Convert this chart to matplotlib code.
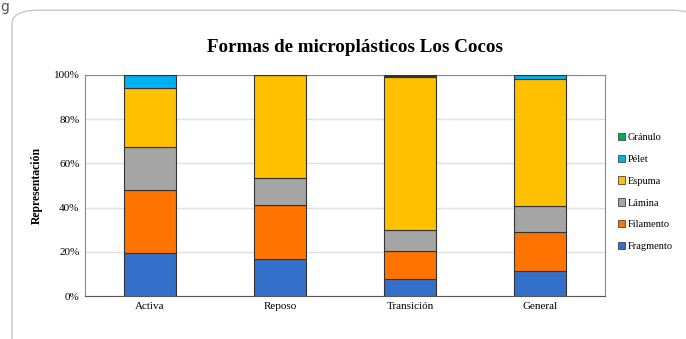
import numpy as np
import matplotlib
matplotlib.use('Agg')
import matplotlib.pyplot as plt
from matplotlib.patches import FancyBboxPatch, Patch

plt.rcParams['font.family'] = ['Liberation Serif', 'DejaVu Serif']

categorias = ['Activa', 'Reposo', 'Transición', 'General']
fragmento = [19.3, 16.7, 7.5, 11.5]
filamento = [28.7, 24.3, 12.7, 17.3]
lamina = [19.3, 12.2, 9.8, 12.1]
espuma = [26.8, 46.8, 68.9, 57.1]
pelet = [5.9, 0.0, 0.6, 1.8]
granulo = [0.0, 0.0, 0.5, 0.2]

series = [('Fragmento', fragmento, '#3370cc'),
          ('Filamento', filamento, '#ff7400'),
          ('Lámina', lamina, '#a5a5a5'),
          ('Espuma', espuma, '#ffc000'),
          ('Pélet', pelet, '#00b0f0'),
          ('Gránulo', granulo, '#00b050')]

fig = plt.figure(figsize=(6.86, 3.39), dpi=100)

# marco redondeado de la tarjeta
marco = FancyBboxPatch((12 / 686, -0.2), 1.0, 1.17, boxstyle='round,pad=0,rounding_size=0.04',
                       transform=fig.transFigure, facecolor='white', edgecolor='#c8c8c8',
                       lw=1.0, zorder=-5)
fig.patches.append(marco)
fig.text(0.0, 1.0, 'g', fontsize=10, color='#555555', va='top', ha='left', family='DejaVu Sans')

ax = fig.add_axes([85 / 686, 1 - 296 / 339, 520 / 686, 221 / 339])
ax.set_facecolor('white')
x = np.arange(len(categorias))
base = np.zeros(len(categorias))
handles = []
for nombre, vals, color in series:
    vals = np.array(vals)
    ax.bar(x, vals, 0.4, bottom=base, color=color, edgecolor='#333333', linewidth=0.8, zorder=3)
    base += vals
    handles.append(Patch(facecolor=color, edgecolor='#444444', linewidth=0.6, label=nombre))

ax.set_xlim(-0.5, 3.5)
ax.set_ylim(0, 100)
ax.set_yticks(np.arange(0, 101, 20))
ax.set_yticklabels([f'{v}%' for v in range(0, 101, 20)], fontsize=8)
ax.set_xticks(x)
ax.set_xticklabels(categorias, fontsize=8)
ax.tick_params(length=0, pad=4)
ax.grid(axis='y', color='#e0e0e0', lw=1.0, zorder=0)
for s in ax.spines.values():
    s.set_color('#8a8a8a')
    s.set_linewidth(0.8)
ax.spines['bottom'].set_color('#555555')
ax.set_ylabel('Representación', fontsize=8.5, fontweight='bold', labelpad=8)

fig.text(355 / 686, 1 - 48 / 339, 'Formas de microplásticos Los Cocos', fontsize=13.7,
         fontweight='bold', ha='center', va='center')

fig.legend(handles=handles[::-1], loc='center left', bbox_to_anchor=(614 / 686, 1 - 192 / 339),
           frameon=False, fontsize=7.5, handlelength=0.7, handleheight=0.7, handletextpad=0.2,
           labelspacing=1.2, borderaxespad=0)

fig.savefig('out.png', dpi=100)
